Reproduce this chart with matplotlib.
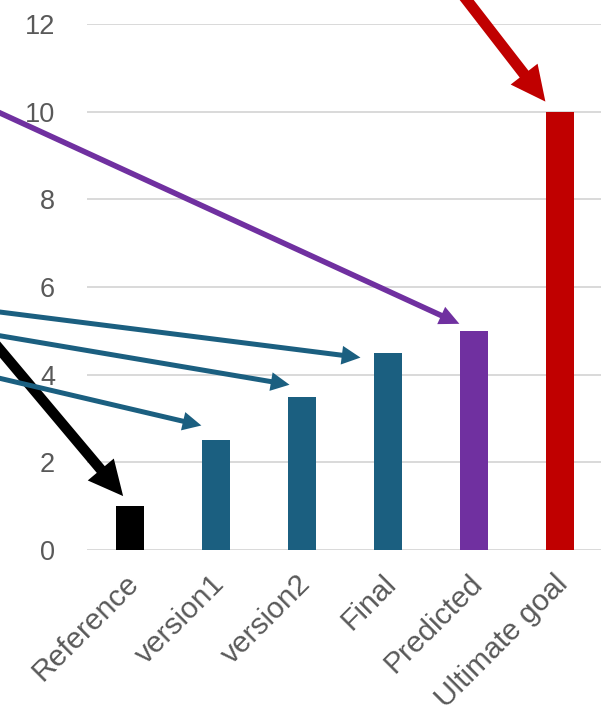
import matplotlib
matplotlib.use("Agg")
import matplotlib.pyplot as plt
import matplotlib.transforms as mtransforms
from matplotlib.patches import ArrowStyle

# ---- data ----
categories = ["Reference", "version1", "version2", "Final", "Predicted", "Ultimate goal"]
values = [1.0, 2.5, 3.5, 4.5, 5.0, 10.0]
bar_colors = ["#000000", "#1B5F80", "#1B5F80", "#1B5F80", "#7030A0", "#C00000"]
yticks = [0, 2, 4, 6, 8, 10, 12]

# arrow tips as offsets from each bar's top (data units), tails in figure pixels
tip_dx = [-0.08, -0.17, -0.145, -0.32, -0.17, -0.17]
tip_dy = [0.23, 0.34, 0.27, -0.11, 0.16, 0.23]
tail_px = [(-40, 415), (-40, 348), (-40, 388), (-40, 410), (-50, 627), (428, 767)]
# (head_length, head_width, tail_width) in points
arrow_sizes = [(25, 24.5, 7.5), (13.5, 13.5, 3.6), (13.5, 13.5, 3.6),
               (13.5, 13.5, 3.6), (14.4, 13.7, 4.0), (25, 24.5, 8.0)]

W, H = 601, 717
fig = plt.figure(figsize=(W / 100, H / 100), dpi=100)
ax = fig.add_axes([87 / W, (H - 550) / H, 516 / W, 526 / H])

x = list(range(len(categories)))
ax.bar(x, values, width=0.314, color=bar_colors, zorder=2)

ax.set_xlim(-0.5, len(categories) - 0.5)
ax.set_ylim(0, 12)
ax.set_yticks(yticks)
ax.yaxis.grid(True, color="#D9D9D9", linewidth=1.4)
ax.set_axisbelow(True)
for s in ax.spines.values():
    s.set_visible(False)
ax.tick_params(axis="both", length=0, labelcolor="#595959")
ax.tick_params(axis="y", pad=23, labelsize=19.5)
ax.tick_params(axis="x", pad=14, labelsize=21.5)
ax.set_xticks(x)
ax.set_xticklabels(categories, rotation=45, ha="right", rotation_mode="anchor",
                   fontfamily="Liberation Sans")
for t in ax.get_yticklabels():
    t.set_fontfamily("Liberation Sans")
offset = mtransforms.ScaledTranslation(-6 / 100, 0, fig.dpi_scale_trans)
for t in ax.get_xticklabels():
    t.set_transform(t.get_transform() + offset)

for i in range(len(categories)):
    hl, hw, tw = arrow_sizes[i]
    ax.annotate("", xy=(i + tip_dx[i], values[i] + tip_dy[i]), xycoords="data",
                xytext=tail_px[i], textcoords="figure pixels",
                arrowprops=dict(arrowstyle=ArrowStyle.Simple(head_length=hl, head_width=hw, tail_width=tw),
                                color=bar_colors[i], shrinkA=0, shrinkB=0, mutation_scale=1,
                                linewidth=0),
                annotation_clip=False, zorder=3)

fig.savefig("out.png", dpi=100)
